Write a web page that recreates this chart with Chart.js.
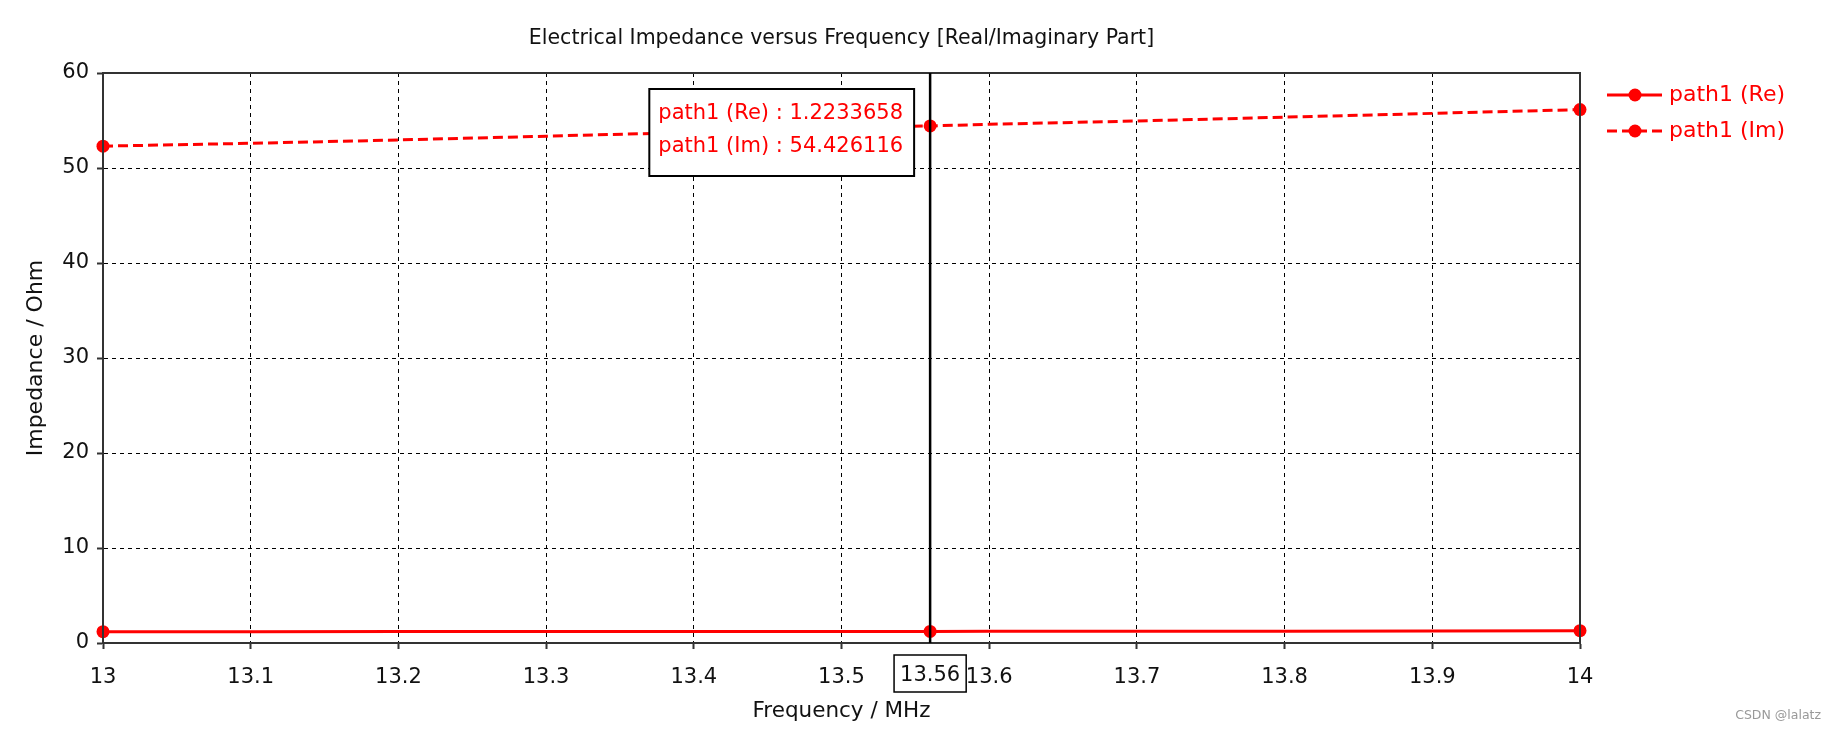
<!DOCTYPE html>
<html>
<head>
<meta charset="utf-8">
<title>Electrical Impedance versus Frequency</title>
<script src="https://cdn.jsdelivr.net/npm/chart.js@4.4.0/dist/chart.umd.min.js"></script>
<style>
    html, body { margin: 0; padding: 0; background: #fff; }
    #wrap { width: 1836px; height: 730px; }
</style>
</head>
<body>
<div id="wrap"><canvas id="impChart" width="1836" height="730"></canvas></div>
<script>
// values
const freqs    = [13.0, 13.1, 13.2, 13.3, 13.4, 13.5, 13.56, 13.6, 13.7, 13.8, 13.9, 14.0];
const reValues = [1.19, 1.19, 1.20, 1.20, 1.21, 1.22, 1.2234, 1.23, 1.24, 1.25, 1.27, 1.30];
const imValues = [52.3, 52.6, 52.95, 53.35, 53.75, 54.2, 54.43, 54.6, 54.95, 55.35, 55.75, 56.15];
const markerIdx = [0, 6, 11];

const xTicks      = [13, 13.1, 13.2, 13.3, 13.4, 13.5, 13.6, 13.7, 13.8, 13.9, 14];
const xTickLabels = ['13', '13.1', '13.2', '13.3', '13.4', '13.5', '13.6', '13.7', '13.8', '13.9', '14'];
const yTicks      = [0, 10, 20, 30, 40, 50, 60];

const seriesNames = ['path1 (Re)', 'path1 (Im)'];
const cursorFreq  = 13.56;
const cursorLabel = '13.56';
const cursorLines = ['path1 (Re) : 1.2233658', 'path1 (Im) : 54.426116'];

const chartTitle = 'Electrical Impedance versus Frequency [Real/Imaginary Part]';
const FONT = '"DejaVu Sans", Verdana, sans-serif';
const RED = '#ff0000';

function toPoints(vals) {
    return freqs.map((f, i) => ({ x: f, y: vals[i] }));
}
function markerRadii() {
    return freqs.map((f, i) => markerIdx.includes(i) ? 6.5 : 0);
}

const overlay = {
    id: 'overlay',
    afterDatasetsDraw(chart) {
        const { ctx, chartArea: a, scales: { x } } = chart;
        ctx.save();
        ctx.setLineDash([]);

        // solid frame round the plot
        ctx.strokeStyle = '#333';
        ctx.lineWidth = 2;
        ctx.strokeRect(a.left, a.top, a.right - a.left, a.bottom - a.top);

        // cursor line
        const cx = x.getPixelForValue(cursorFreq);
        ctx.strokeStyle = '#000';
        ctx.lineWidth = 2.5;
        ctx.beginPath();
        ctx.moveTo(cx, a.top);
        ctx.lineTo(cx, a.bottom);
        ctx.stroke();

        // cursor readout box
        ctx.font = '21px ' + FONT;
        const tw = Math.max(...cursorLines.map(t => ctx.measureText(t).width));
        const bw = tw + 20, bh = 87;
        const bx = cx - 16 - bw, by = a.top + 16;
        ctx.fillStyle = '#fff';
        ctx.fillRect(bx, by, bw, bh);
        ctx.strokeStyle = '#000';
        ctx.lineWidth = 2;
        ctx.strokeRect(bx, by, bw, bh);
        ctx.fillStyle = RED;
        ctx.textBaseline = 'middle';
        ctx.textAlign = 'left';
        cursorLines.forEach((t, i) => ctx.fillText(t, bx + 9, by + 25 + i * 33));

        // cursor value on the x axis
        ctx.font = '21px ' + FONT;
        const lw = ctx.measureText(cursorLabel).width + 12;
        ctx.fillStyle = '#fff';
        ctx.fillRect(cx - lw / 2, a.bottom + 12, lw, 37);
        ctx.strokeStyle = '#000';
        ctx.lineWidth = 1.5;
        ctx.strokeRect(cx - lw / 2, a.bottom + 12, lw, 37);
        ctx.fillStyle = '#111';
        ctx.textAlign = 'center';
        ctx.fillText(cursorLabel, cx, a.bottom + 33);
        ctx.restore();
    },
    afterDraw(chart) {
        const { ctx, chartArea: a } = chart;
        ctx.save();

        // title
        ctx.fillStyle = '#111';
        ctx.font = '20.5px ' + FONT;
        ctx.textAlign = 'center';
        ctx.textBaseline = 'middle';
        ctx.fillText(chartTitle, (a.left + a.right) / 2, 39);

        // legend
        ctx.textAlign = 'left';
        ctx.font = '22px ' + FONT;
        chart.data.datasets.forEach((ds, i) => {
            const ly = a.top + 22 + i * 36;
            const lx = a.right + 27;
            ctx.strokeStyle = ds.borderColor;
            ctx.lineWidth = 3;
            ctx.setLineDash(ds.borderDash || []);
            ctx.beginPath();
            ctx.moveTo(lx, ly);
            ctx.lineTo(lx + 55, ly);
            ctx.stroke();
            ctx.setLineDash([]);
            ctx.fillStyle = ds.borderColor;
            ctx.beginPath();
            ctx.arc(lx + 28, ly, 6.5, 0, Math.PI * 2);
            ctx.fill();
            ctx.fillText(ds.label, lx + 62, ly);
        });

        // watermark
        ctx.fillStyle = '#999';
        ctx.font = '12.5px ' + FONT;
        ctx.textAlign = 'right';
        ctx.fillText('CSDN @lalatz', 1821, 716);
        ctx.restore();
    }
};

const ctx = document.getElementById('impChart').getContext('2d');
const chart = new Chart(ctx, {
    type: 'line',
    data: {
        datasets: [{
            label: seriesNames[0],
            data: toPoints(reValues),
            borderColor: RED,
            backgroundColor: RED,
            borderWidth: 3,
            pointRadius: markerRadii(),
            pointBackgroundColor: RED,
            pointBorderWidth: 0,
            clip: false
        }, {
            label: seriesNames[1],
            data: toPoints(imValues),
            borderColor: RED,
            backgroundColor: RED,
            borderWidth: 3,
            borderDash: [10, 5],
            pointRadius: markerRadii(),
            pointBackgroundColor: RED,
            pointBorderWidth: 0,
            clip: false
        }]
    },
    options: {
        responsive: false,
        animation: false,
        layout: {
            padding: { left: 0, right: 256, top: 73, bottom: 0 }
        },
        scales: {
            x: {
                type: 'linear',
                min: 13,
                max: 14,
                afterBuildTicks: s => { s.ticks = xTicks.map(v => ({ value: v })); },
                afterFit: s => { s.height = 87; },
                ticks: {
                    color: '#111',
                    font: { family: FONT, size: 21 },
                    padding: 16,
                    maxRotation: 0,
                    autoSkip: false,
                    callback: (v, i) => xTickLabels[i]
                },
                grid: {
                    color: '#000',
                    lineWidth: 1,
                    tickLength: 6,
                    tickColor: '#333',
                    tickWidth: 2
                },
                border: { display: true, color: '#333', width: 2, dash: [4, 4] },
                title: {
                    display: true,
                    text: 'Frequency / MHz',
                    color: '#111',
                    font: { family: FONT, size: 21.5 },
                    padding: { top: 0, bottom: 6 }
                }
            },
            y: {
                min: 0,
                max: 60,
                afterBuildTicks: s => { s.ticks = yTicks.map(v => ({ value: v })); },
                afterFit: s => { s.width = 103; },
                ticks: {
                    color: '#111',
                    font: { family: FONT, size: 21 },
                    padding: 8
                },
                grid: {
                    color: '#000',
                    lineWidth: 1,
                    tickLength: 6,
                    tickColor: '#333',
                    tickWidth: 2
                },
                border: { display: true, color: '#333', width: 2, dash: [4, 4] },
                title: {
                    display: true,
                    text: 'Impedance / Ohm',
                    color: '#111',
                    font: { family: FONT, size: 22 },
                    padding: { top: 23, bottom: 0 }
                }
            }
        },
        plugins: {
            legend: { display: false },
            title: { display: false },
            tooltip: { enabled: false }
        }
    },
    plugins: [overlay]
});
</script>
</body>
</html>
